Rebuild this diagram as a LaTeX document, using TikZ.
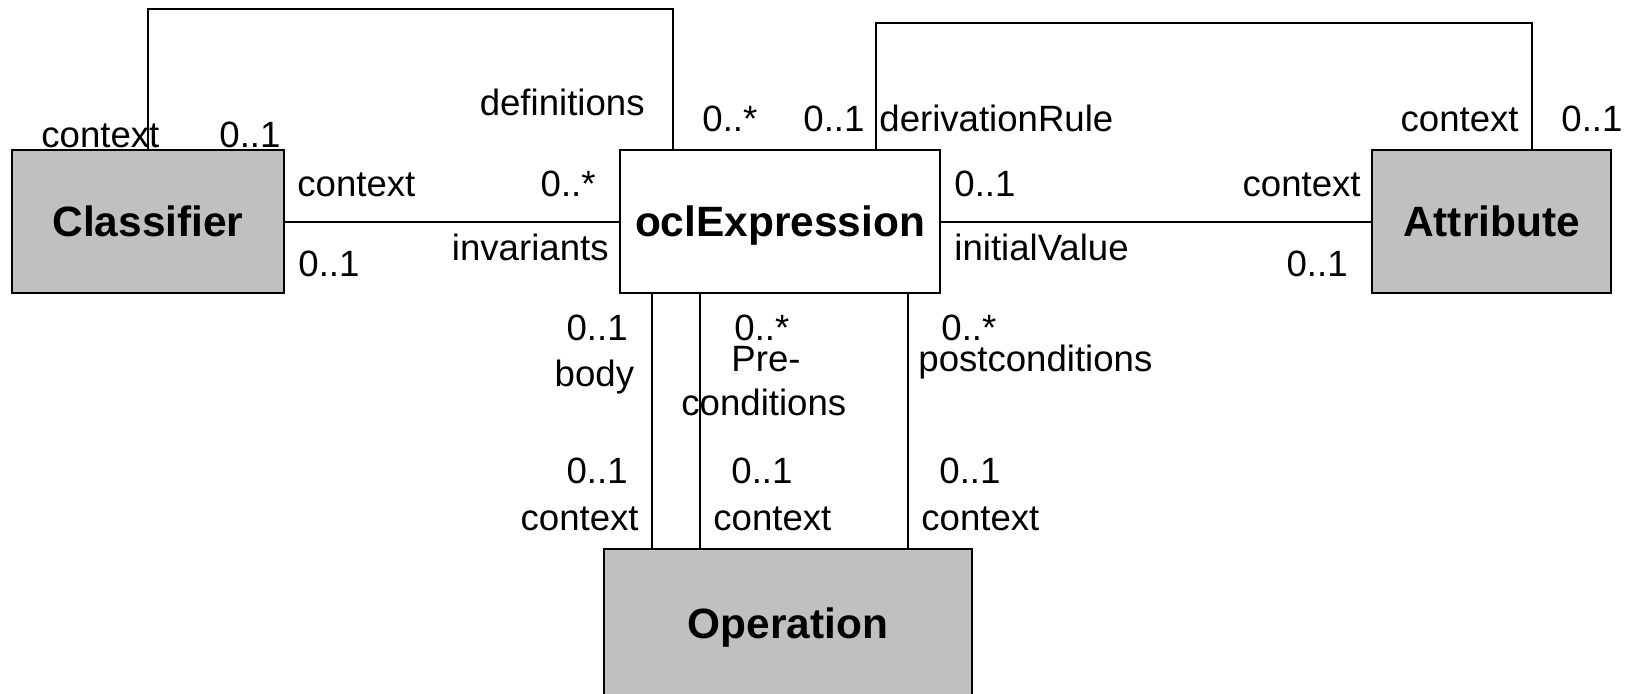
\documentclass[tikz,border=0pt]{standalone}
\usepackage{fontspec}
\setmainfont{Liberation Sans}
\begin{document}
\begin{tikzpicture}[x=0.5pt,y=-0.5pt,
  classbox/.style={draw,line width=1.4pt,inner sep=0pt,minimum height=71.5pt,
    text height=15.2pt,text depth=0pt,
    font=\bfseries\fontsize{21.2pt}{25pt}\selectfont},
  shaded/.style={classbox,fill={rgb,255:red,192;green,192;blue,192}},
  plain/.style={classbox,fill=white},
  link/.style={line width=1pt},
  lbl/.style={inner sep=0pt,font=\fontsize{18.3pt}{22pt}\selectfont}]
\useasboundingbox (0,0) rectangle (1629,693);
\clip (0,0) rectangle (1629,693);

% classes
\node[shaded,minimum width=136pt] (Classifier) at (148,221.5) {Classifier};
\node[plain,minimum width=160pt] (ocl) at (780,221.5) {oclExpression};
\node[shaded,minimum width=119.5pt] (Attribute) at (1491.5,221.5) {Attribute};
\node[shaded,minimum width=184pt,minimum height=74pt] (Operation) at (788,623) {Operation};

% routing points
\coordinate (defTop) at (673,9);
\coordinate (derTop) at (876,22.7);
\coordinate (derEnd) at (1532,22.7);
\coordinate (b1) at (652,0);
\coordinate (b2) at (700,0);
\coordinate (b3) at (908,0);

% associations
\draw[link] (Classifier.east) -- (ocl.west);
\draw[link] (ocl.east) -- (Attribute.west);
\draw[link] (Classifier.north) |- (defTop) -- (defTop |- ocl.north);
\draw[link] (derTop |- ocl.north) -- (derTop) -- (derEnd) -- (derEnd |- Attribute.north);
\draw[link] (b1 |- ocl.south) -- (b1 |- Operation.north);
\draw[link] (b2 |- ocl.south) -- (b2 |- Operation.north);
\draw[link] (b3 |- ocl.south) -- (b3 |- Operation.north);

% definitions loop
\node[lbl,anchor=base west] (l1) at (41,147.7) {context};
\node[lbl,anchor=base west] (l2) at (219,147.7) {0..1};
\node[lbl,anchor=base east] (l3) at (645,115) {definitions};
\node[lbl,anchor=base west] (l4) at (702,131.7) {0..*};

% invariants
\node[lbl,anchor=base west] (l5) at (297,196.7) {context};
\node[lbl,anchor=base east] (l6) at (596,196.7) {0..*};
\node[lbl,anchor=base east] (l7) at (609,260) {invariants};
\node[lbl,anchor=base west] (l8) at (298,276.7) {0..1};

% derivation rule loop
\node[lbl,anchor=base west] (l9) at (803,131.7) {0..1};
\node[lbl,anchor=base west] (l10) at (879,131.7) {derivationRule};
\node[lbl,anchor=base east] (l11) at (1519,131.7) {context};
\node[lbl,anchor=base west] (l12) at (1561,131.7) {0..1};

% initial value
\node[lbl,anchor=base west] (l13) at (954,196.7) {0..1};
\node[lbl,anchor=base east] (l14) at (1361,196.7) {context};
\node[lbl,anchor=base west] (l15) at (954,260) {initialValue};
\node[lbl,anchor=base east] (l16) at (1348,276) {0..1};

% body
\node[lbl,anchor=base east] (l17) at (628,340) {0..1};
\node[lbl,anchor=base east] (l18) at (634.5,386.7) {body};
\node[lbl,anchor=base east] (l19) at (628,483.3) {0..1};
\node[lbl,anchor=base east] (l20) at (639,530.7) {context};

% preconditions
\node[lbl,anchor=base west] (l21) at (734,340) {0..*};
\node[lbl,anchor=base west] (l22) at (731,371.7) {Pre-};
\node[lbl,anchor=base west] (l23) at (681,415) {conditions};
\node[lbl,anchor=base west] (l24) at (731,483.3) {0..1};
\node[lbl,anchor=base west] (l25) at (713,530.7) {context};

% postconditions
\node[lbl,anchor=base west] (l26) at (941,340) {0..*};
\node[lbl,anchor=base west] (l27) at (918,371.7) {postconditions};
\node[lbl,anchor=base west] (l28) at (939,483.3) {0..1};
\node[lbl,anchor=base west] (l29) at (921,530.7) {context};
\end{tikzpicture}
\end{document}
